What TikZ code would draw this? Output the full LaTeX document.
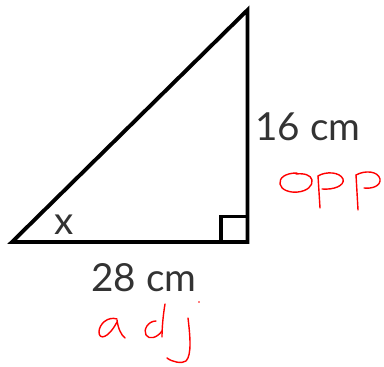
\documentclass[tikz,border=0pt]{standalone}
\usepackage{fontspec}
\setmainfont{Lato}
\tikzset{
  tri/.style={line width=2.2pt, black, line join=miter},
  lbl/.style={text=black!80, font=\fontsize{22}{24}\selectfont, inner sep=0pt},
  hand/.style={red, line width=0.8pt, line cap=round, line join=round}
}
\begin{document}
\begin{tikzpicture}[x=0.02cm, y=-0.02cm]
\useasboundingbox (0,0) rectangle (384,367);
\coordinate (A) at (12,242);
\coordinate (B) at (247.5,242);
\coordinate (C) at (247.5,10);
\draw[tri] (A) -- (B) -- (C) -- cycle;
\draw[tri] (221,242) -- (221,216.5) -- (247.5,216.5);
\node[lbl] (x) at (64,225) {x};
\node[lbl] (opp) at (308,127) {16 cm};
\node[lbl] (adj) at (144,278) {28 cm};
% handwritten "opp"
\draw[hand] (297,173) .. controls (285,173) and (279,178) .. (280,184)
  .. controls (281,190) and (290,193) .. (298,192)
  .. controls (307,191) and (313,186) .. (312,180)
  .. controls (311,175) and (304,173) .. (296,174);
\draw[hand] (318,176) -- (320,208);
\draw[hand] (318,176) .. controls (326,171) and (340,172) .. (343,179)
  .. controls (345,186) and (333,190) .. (322,189);
\draw[hand] (356,175) -- (358,210);
\draw[hand] (356,175) .. controls (365,170) and (378,171) .. (380,179)
  .. controls (381,186) and (372,189) .. (364,188);
% handwritten "adj"
\draw[hand] (117,319) .. controls (108,316) and (99,324) .. (99,332)
  .. controls (99,340) and (108,339) .. (117,322);
\draw[hand] (117,320) .. controls (118,328) and (121,335) .. (125,338);
\draw[hand] (156,321) .. controls (148,321) and (143,330) .. (146,335)
  .. controls (149,340) and (157,338) .. (162,331);
\draw[hand] (165,304) .. controls (163,316) and (162,328) .. (162,337);
\draw[hand] (188,318) .. controls (190,335) and (192,355) .. (186,361)
  .. controls (182,364) and (172,362) .. (167,358);
\fill[red] (199,302) circle (0.8);
\end{tikzpicture}
\end{document}
